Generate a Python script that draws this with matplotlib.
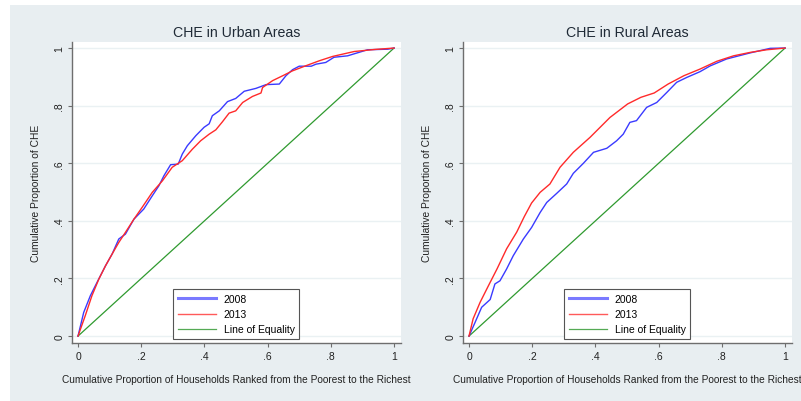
import matplotlib
matplotlib.use("Agg")
import matplotlib.pyplot as plt
from matplotlib.patches import Rectangle

plt.rcParams['font.family'] = ['Liberation Sans', 'DejaVu Sans']

# ---------------- data ----------------
urban_2008_x = [0, 0.018, 0.039, 0.06, 0.087, 0.108, 0.129, 0.150, 0.177, 0.208, 0.235,
                0.256, 0.272, 0.293, 0.317, 0.330, 0.346, 0.373, 0.399, 0.415, 0.425,
                0.447, 0.473, 0.499, 0.526, 0.563, 0.595, 0.637, 0.658, 0.679, 0.700,
                0.738, 0.753, 0.784, 0.81, 0.853, 0.916, 0.98, 1.0]
urban_2008_y = [0, 0.082, 0.14, 0.186, 0.244, 0.285, 0.337, 0.354, 0.406, 0.441, 0.487,
                0.522, 0.557, 0.595, 0.597, 0.632, 0.661, 0.696, 0.725, 0.737, 0.765,
                0.782, 0.814, 0.825, 0.850, 0.860, 0.873, 0.875, 0.904, 0.925, 0.937,
                0.937, 0.944, 0.950, 0.968, 0.973, 0.994, 0.996, 1.0]

urban_2013_x = [0, 0.023, 0.044, 0.066, 0.087, 0.108, 0.129, 0.150, 0.177, 0.203, 0.235,
                0.267, 0.298, 0.330, 0.362, 0.388, 0.415, 0.436, 0.457, 0.478, 0.499,
                0.521, 0.552, 0.579, 0.584, 0.616, 0.648, 0.679, 0.722, 0.764, 0.806,
                0.874, 0.938, 1.0]
urban_2013_y = [0, 0.071, 0.14, 0.198, 0.244, 0.285, 0.325, 0.36, 0.406, 0.447, 0.499,
                0.539, 0.586, 0.609, 0.649, 0.678, 0.701, 0.716, 0.744, 0.774, 0.782,
                0.811, 0.832, 0.844, 0.863, 0.887, 0.904, 0.921, 0.939, 0.956, 0.971,
                0.988, 0.995, 1.0]

rural_2008_x = [0, 0.019, 0.04, 0.067, 0.082, 0.098, 0.119, 0.14, 0.172, 0.198, 0.225,
                0.246, 0.277, 0.309, 0.33, 0.362, 0.394, 0.436, 0.467, 0.488, 0.509,
                0.53, 0.562, 0.594, 0.626, 0.657, 0.689, 0.731, 0.763, 0.815, 0.889,
                0.953, 1.0]
rural_2008_y = [0, 0.047, 0.1, 0.127, 0.181, 0.192, 0.233, 0.279, 0.337, 0.377, 0.429,
                0.464, 0.495, 0.528, 0.565, 0.600, 0.638, 0.652, 0.678, 0.701, 0.742,
                0.748, 0.794, 0.811, 0.846, 0.881, 0.898, 0.918, 0.938, 0.962, 0.983,
                0.999, 1.0]

rural_2013_x = [0, 0.013, 0.035, 0.062, 0.089, 0.119, 0.151, 0.175, 0.198, 0.225, 0.256,
                0.288, 0.33, 0.383, 0.446, 0.502, 0.544, 0.586, 0.63, 0.68, 0.731,
                0.784, 0.837, 0.89, 0.942, 1.0]
rural_2013_y = [0, 0.06, 0.117, 0.176, 0.234, 0.303, 0.361, 0.415, 0.462, 0.499, 0.528,
                0.586, 0.638, 0.69, 0.759, 0.806, 0.829, 0.844, 0.875, 0.904, 0.927,
                0.954, 0.973, 0.985, 0.994, 1.0]

equality = [0, 1]

titles = ["CHE in Urban Areas", "CHE in Rural Areas"]
ticks = [0, 0.2, 0.4, 0.6, 0.8, 1.0]
tick_labels = ["0", ".2", ".4", ".6", ".8", "1"]
series_labels = ["2008", "2013", "Line of Equality"]

# ---------------- figure ----------------
W, H = 801, 402
fig = plt.figure(figsize=(W / 100, H / 100), dpi=100)
fig.patch.set_facecolor('white')
fig.patches.append(Rectangle((10 / W, 0), 1 - 10 / W, (H - 6) / H,
                             transform=fig.transFigure, facecolor='#e8eef1',
                             edgecolor='none', zorder=-10))

blue = '#3a3aff'
red = '#ff2a2a'
green = '#2f9a2f'
axcol = '#6e6e6e'
txtcol = '#222222'

panels = [
    (72, (urban_2008_x, urban_2008_y), (urban_2013_x, urban_2013_y)),
    (463, (rural_2008_x, rural_2008_y), (rural_2013_x, rural_2013_y)),
]

for i, (left_px, s08, s13) in enumerate(panels):
    ax = fig.add_axes([left_px / W, (H - 344) / H, 329 / W, (344 - 43) / H])
    ax.set_facecolor('white')
    ax.plot(s08[0], s08[1], color=blue, lw=1.0, label=series_labels[0], zorder=3)
    ax.plot(s13[0], s13[1], color=red, lw=1.0, label=series_labels[1], zorder=3)
    ax.plot(equality, equality, color=green, lw=0.9, label=series_labels[2], zorder=2)
    ax.set_xlim(-0.019, 1.022)
    ax.set_ylim(-0.024, 1.021)
    for s in ['top', 'right']:
        ax.spines[s].set_visible(False)
    for s in ['left', 'bottom']:
        ax.spines[s].set_color(axcol)
        ax.spines[s].set_linewidth(1.0)
    ax.set_xticks(ticks)
    ax.set_xticklabels(tick_labels)
    ax.set_yticks(ticks)
    ax.set_yticklabels(tick_labels, rotation=90, va='center')
    ax.tick_params(axis='both', direction='out', length=3, width=0.8, color=axcol,
                   labelsize=7.5, labelcolor=txtcol, pad=2.5)
    ax.grid(axis='y', color='#eaf1f3', lw=1.0, zorder=0)
    ax.set_axisbelow(True)
    ax.set_title(titles[i], fontsize=10.2, color='#1f2a36', pad=4)
    ax.set_ylabel("Cumulative Proportion of CHE", fontsize=7.4, color=txtcol)
    ax.yaxis.set_label_coords(-0.094, 0.5)
    ax.set_xlabel("Cumulative Proportion of Households Ranked from the Poorest to the Richest",
                  fontsize=7.3, color=txtcol)
    ax.xaxis.set_label_coords(0.5, -0.103)
    leg = ax.legend(loc='lower left', bbox_to_anchor=(0.308, 0.013, 0.381, 0.166),
                    mode='expand', fontsize=7.5, frameon=True, fancybox=False,
                    edgecolor='#555555', framealpha=1, handlelength=3.6,
                    handletextpad=0.8, borderpad=0.45, labelspacing=0.5,
                    borderaxespad=0)
    leg.get_frame().set_linewidth(0.8)
    lines = leg.get_lines()
    lines[0].set_linewidth(2.2)
    lines[0].set_color('#7a7aff')
    lines[1].set_color('#ff5a5a')
    lines[2].set_color('#55aa55')

fig.savefig("out.png", dpi=100, facecolor=fig.get_facecolor())
